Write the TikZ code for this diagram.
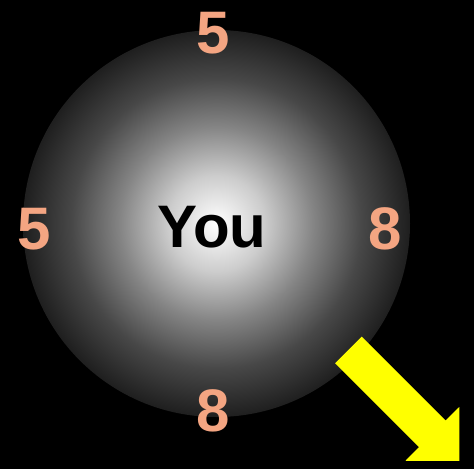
\documentclass[tikz,border=0pt]{standalone}
\usepackage{fontspec}
\setmainfont{Liberation Sans}
\definecolor{salmon}{HTML}{F4A582}
\definecolor{arrowyellow}{RGB}{255,255,0}
\pgfdeclareradialshading{ballshade}{\pgfpoint{0bp}{0bp}}{color(0bp)=(white);color(6.25bp)=(black!20);color(12.5bp)=(black!48);color(18.75bp)=(black!72);color(25bp)=(black!88);color(50bp)=(black!88)}
\begin{document}
\begin{tikzpicture}[x=1pt,y=-1pt,
  num/.style={text=salmon,font=\fontsize{60}{60}\selectfont\bfseries,anchor=base,inner sep=0pt},
  youlabel/.style={text=black,font=\fontsize{60}{60}\selectfont\bfseries,anchor=base,inner sep=0pt}]
\fill[black] (0,0) rectangle (474,469);
\useasboundingbox (0,0) rectangle (474,469);
\shade[shading=ballshade] (216.5,223.5) circle[radius=193.5pt];
\node[youlabel] (you) at (212,247) {You};
\node[num] (top) at (213,53) {5};
\node[num] (left) at (34,249) {5};
\node[num] (right) at (385,249) {8};
\node[num] (bottom) at (213,431) {8};
\fill[arrowyellow] (361.75,336.55) -- (445.6,420.4) -- (459.25,407) -- (459.25,460.75) -- (405.5,460.75) -- (418.9,447.1) -- (335.05,363.25) -- cycle;
\end{tikzpicture}
\end{document}
